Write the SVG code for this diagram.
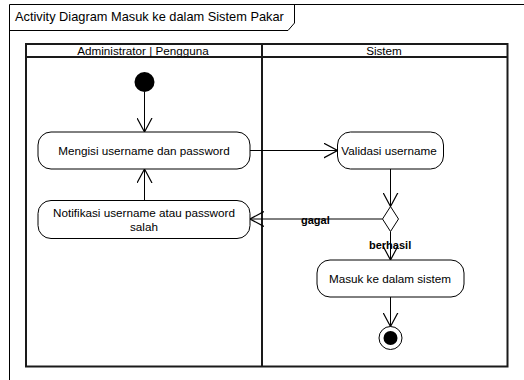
<svg xmlns="http://www.w3.org/2000/svg" width="524" height="380" viewBox="0 0 524 380">
  <defs>
    <style>
      .frame { fill: none; stroke: #000; stroke-width: 1; }
      .lane { fill: none; stroke: #1a1a1a; stroke-width: 2; }
      .node { fill: #fff; stroke: #000; stroke-width: 1; }
      .edge { fill: none; stroke: #000; stroke-width: 1; marker-end: url(#open); }
      .t { font-family: "Liberation Sans", Arial, sans-serif; font-size: 11.7px; fill: #000; text-anchor: middle; }
      .title { font-family: "Liberation Sans", Arial, sans-serif; font-size: 12.8px; fill: #000; }
      .guard { font-family: "Liberation Sans", Arial, sans-serif; font-size: 11px; font-weight: bold; fill: #000; }
    </style>
    <marker id="open" viewBox="0 0 14 16" refX="14" refY="8" markerWidth="14" markerHeight="16" markerUnits="userSpaceOnUse" orient="auto">
      <path d="M0,0.5 L14,8 L0,15.5" fill="none" stroke="#000" stroke-width="1.2"/>
    </marker>
  </defs>

  <rect width="524" height="380" fill="#fff"/>

  <!-- diagram frame with name tab -->
  <g id="frame">
    <path class="frame" d="M9.5,380 V4.5 H524"/>
    <path class="frame" d="M9.5,30.5 H288 L294.5,23 V4.5"/>
    <text class="title" x="15" y="21">Activity Diagram Masuk ke dalam Sistem Pakar</text>
  </g>

  <!-- swimlanes -->
  <g id="swimlanes">
    <rect class="lane" x="26" y="44" width="481.5" height="322.5"/>
    <line class="lane" x1="26" y1="57" x2="507.5" y2="57"/>
    <line class="lane" x1="262" y1="44" x2="262" y2="366.5"/>
    <text class="t" x="143" y="55">Administrator | Pengguna</text>
    <text class="t" x="384" y="55">Sistem</text>
  </g>

  <!-- connectors -->
  <g id="connectors">
    <line class="edge" x1="144.5" y1="92" x2="144.5" y2="132"/>
    <line class="edge" x1="144.5" y1="200.5" x2="144.5" y2="169"/>
    <line class="edge" x1="250" y1="150.5" x2="337.5" y2="150.5"/>
    <line class="edge" x1="390.5" y1="169" x2="390.5" y2="206.5"/>
    <line class="edge" x1="382.5" y1="219" x2="250" y2="219"/>
    <line class="edge" x1="390.5" y1="231.5" x2="390.5" y2="260"/>
    <line class="edge" x1="390.5" y1="297" x2="390.5" y2="326.5"/>
    <text class="guard" x="301" y="224">gagal</text>
    <text class="guard" x="369" y="248.5">berhasil</text>
  </g>

  <!-- nodes -->
  <g id="start">
    <circle cx="144.5" cy="82" r="10" fill="#000"/>
  </g>
  <g id="mengisi">
    <rect class="node" x="38" y="132" width="212" height="37" rx="13"/>
    <text class="t" x="144" y="154.5">Mengisi username dan password</text>
  </g>
  <g id="notifikasi">
    <rect class="node" x="38" y="200.5" width="212" height="38" rx="13"/>
    <text class="t" x="144" y="217">Notifikasi username atau password</text>
    <text class="t" x="144" y="230.5">salah</text>
  </g>
  <g id="validasi">
    <rect class="node" x="337.5" y="132" width="106" height="37" rx="13"/>
    <text class="t" x="389" y="154.5">Validasi username</text>
  </g>
  <g id="decision">
    <path class="node" d="M390.5,206.5 L398.5,219 L390.5,231.5 L382.5,219 Z"/>
  </g>
  <g id="masuk">
    <rect class="node" x="317" y="260" width="147" height="37" rx="13"/>
    <text class="t" x="390" y="282.5">Masuk ke dalam sistem</text>
  </g>
  <g id="end">
    <circle cx="390.5" cy="338" r="11.5" fill="#fff" stroke="#000" stroke-width="1"/>
    <circle cx="390.5" cy="338" r="7" fill="#000"/>
  </g>
</svg>
